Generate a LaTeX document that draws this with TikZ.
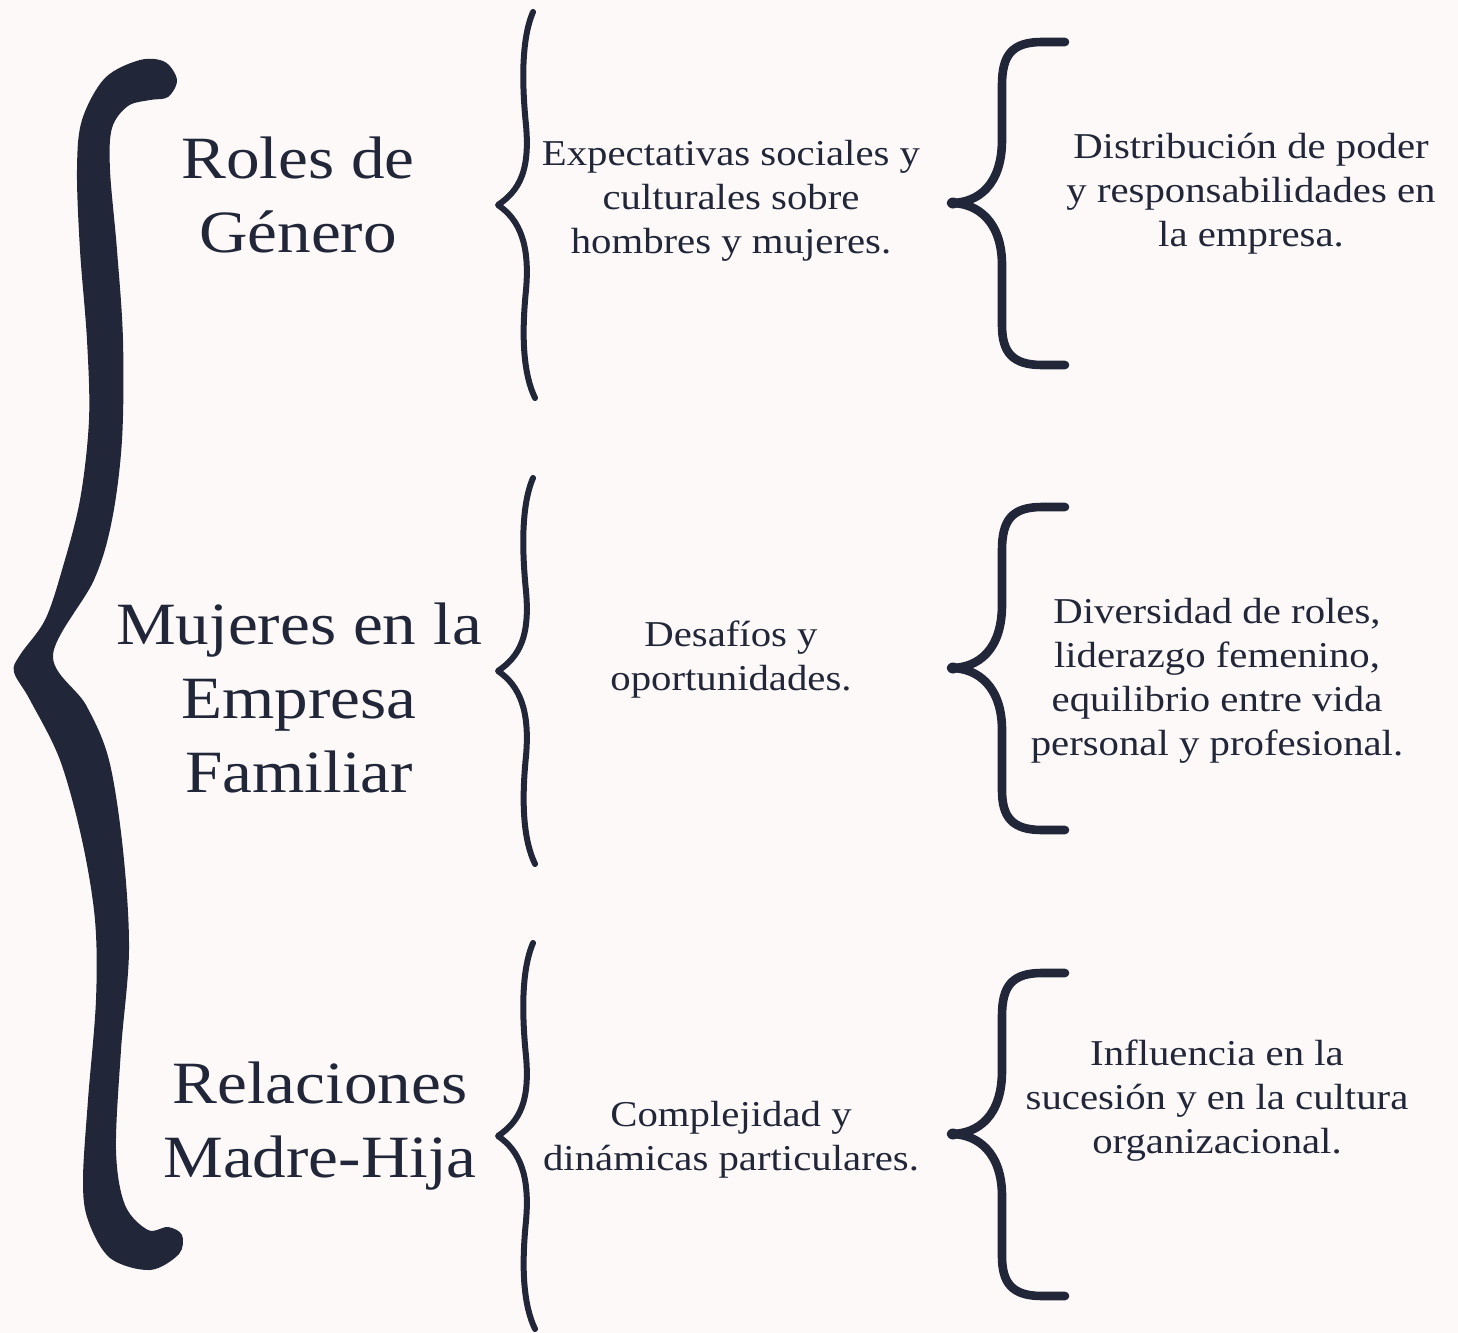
\documentclass[tikz,border=0pt]{standalone}
\usepackage{fontspec}
\setmainfont{Liberation Serif}[FakeStretch=1.12]
\definecolor{ink}{HTML}{212738}
\definecolor{bg}{HTML}{FDF9F8}
\newcommand\myMidBrace{%
  \draw[midbrace] (533,12) .. controls (521,40) and (522,85) .. (526,125)
    .. controls (530,170) and (520,190) .. (498,205)
    .. controls (520,220) and (530,245) .. (526,290)
    .. controls (521,340) and (524,375) .. (535,398);}
\newcommand\myRightBrace{%
  \draw[rightbrace] (1065,42) -- (1042,42) .. controls (1012,42) and (1002,55) .. (1002,85)
    -- (1002,140) .. controls (1002,185) and (978,203) .. (951,203)
    .. controls (978,203) and (1002,222) .. (1002,265)
    -- (1002,325) .. controls (1002,352) and (1012,365) .. (1042,365) -- (1065,365);
  \fill[ink] (953,203) ellipse (6 and 5.5);}
\tikzset{
  midbrace/.style={draw=ink, line width=3pt, line cap=round, line join=round},
  rightbrace/.style={draw=ink, line width=4.3pt, line cap=round, line join=round},
  titletext/.style={align=center, inner sep=0pt, text=ink, font=\fontsize{30}{37}\selectfont},
  bodytext/.style={align=center, inner sep=0pt, text=ink, font=\fontsize{18.2}{22}\selectfont},
}
\begin{document}
\begin{tikzpicture}[x=0.5pt,y=-0.5pt]
\fill[bg] (0,0) rectangle (1458,1333);
\useasboundingbox (0,0) rectangle (1458,1333);
% big brace
\fill[ink] plot[smooth cycle, tension=0.55] coordinates {
(177,80) (168,97) (150,100) (128,106) (112,128) (110,170) (117,250) (123,340) (122,440) (112,520) (94,580) (53,655)
(86,705) (109,760) (123,850) (129,950) (121,1050) (116,1150) (125,1205) (148,1230) (168,1227) (182,1235) (179,1254)
(150,1270) (110,1258) (88,1220) (83,1180) (88,1100) (96,1000) (95,920) (82,840) (60,760) (30,700) (14,672) (20,655)
(45,620) (62,570) (80,500) (89,420) (87,340) (80,250) (77,170) (82,120) (105,78) (140,60) (165,62)};
% middle braces
\myMidBrace
\begin{scope}[shift={(0,466)}]\myMidBrace\end{scope}
\begin{scope}[shift={(0,931)}]\myMidBrace\end{scope}
% right braces
\myRightBrace
\begin{scope}[shift={(0,465)}]\myRightBrace\end{scope}
\begin{scope}[shift={(0,931)}]\myRightBrace\end{scope}
% texts
\node[titletext] (t1) at (298,195) {Roles de\\Género};
\node[titletext] (t2) at (299,698) {Mujeres en la\\Empresa\\Familiar};
\node[titletext] (t3) at (320,1126) {Relaciones\\Madre-Hija};
\node[bodytext] (m1) at (731,201) {Expectativas sociales y\\culturales sobre\\hombres y mujeres.};
\node[bodytext] (m2) at (731,660) {Desafíos y\\oportunidades.};
\node[bodytext] (m3) at (731,1140) {Complejidad y\\dinámicas particulares.};
\node[bodytext] (r1) at (1251,194) {Distribución de poder\\y responsabilidades en\\la empresa.};
\node[bodytext] (r2) at (1217,681) {Diversidad de roles,\\liderazgo femenino,\\equilibrio entre vida\\personal y profesional.};
\node[bodytext] (r3) at (1217,1101) {Influencia en la\\sucesión y en la cultura\\organizacional.};
\end{tikzpicture}
\end{document}
